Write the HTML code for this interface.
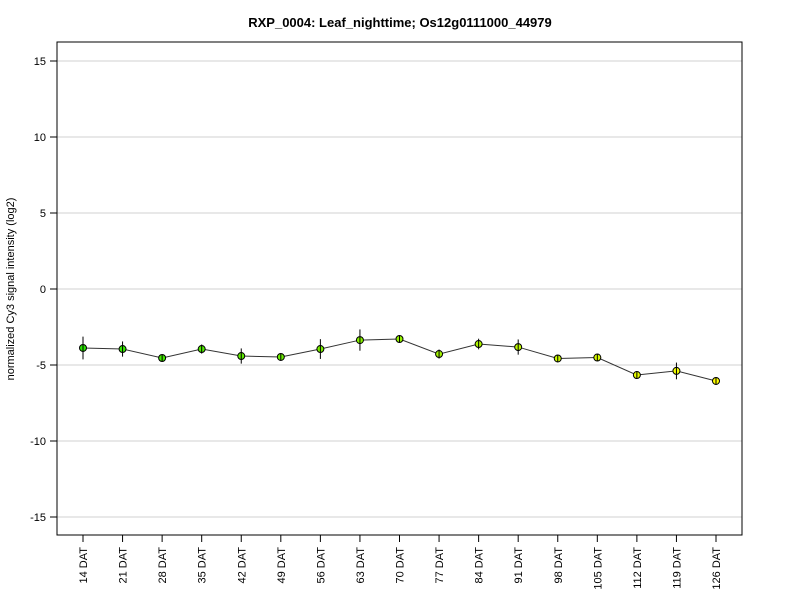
<!DOCTYPE html>
<html><head><meta charset="utf-8"><style>
body{margin:0;background:#fff;font-family:"Liberation Sans",Arial,sans-serif}
</style></head><body>
<svg id="chart" width="800" height="600" xmlns="http://www.w3.org/2000/svg" font-family="Liberation Sans, Arial, sans-serif">
<text x="400" y="27" text-anchor="middle" font-size="13" font-weight="bold">RXP_0004: Leaf_nighttime; Os12g0111000_44979</text>
<text transform="translate(14,289) rotate(-90)" text-anchor="middle" font-size="11">normalized Cy3 signal intensity (log2)</text>
<g id="grid"></g><g id="axes"></g><g id="series"></g>
<rect x="57" y="42" width="685" height="493" fill="none" stroke="#000" stroke-width="1"/>
</svg>
<script>
const categories=["14 DAT","21 DAT","28 DAT","35 DAT","42 DAT","49 DAT","56 DAT","63 DAT","70 DAT","77 DAT","84 DAT","91 DAT","98 DAT","105 DAT","112 DAT","119 DAT","126 DAT"];
const values=[-3.88,-3.95,-4.54,-3.95,-4.41,-4.47,-3.95,-3.36,-3.29,-4.28,-3.62,-3.82,-4.57,-4.51,-5.66,-5.39,-6.05];
const errors=[0.75,0.5,0.15,0.3,0.5,0.1,0.65,0.7,0.15,0.3,0.35,0.5,0.15,0.1,0.2,0.55,0.25];
const yTicks=[-15,-10,-5,0,5,10,15];
const NS="http://www.w3.org/2000/svg";
const x=i=>83+i*(716-83)/(categories.length-1);
const y=v=>289-v*15.2;
function mk(t,a,p){const e=document.createElementNS(NS,t);for(const k in a)e.setAttribute(k,a[k]);p.appendChild(e);return e;}
const grid=document.getElementById('grid'),axes=document.getElementById('axes'),ser=document.getElementById('series');
yTicks.forEach(v=>{
 const g=mk('line',{x1:57,x2:742,y1:y(v),y2:y(v),stroke:'#d0d0d0','stroke-width':1},grid);
 
 
 const t=mk('line',{x1:50,x2:57,y1:y(v),y2:y(v),stroke:'#000'},axes);
 
 
 const l=mk('text',{x:46,y:y(v)+4,'text-anchor':'end','font-size':11},axes);
 l.textContent=v;
 
 
});
categories.forEach((c,i)=>{
 const t=mk('line',{x1:x(i),x2:x(i),y1:535,y2:542,stroke:'#000'},axes);
 
 
 const l=mk('text',{transform:`translate(${x(i)+4},547) rotate(-90)`,'text-anchor':'end','font-size':11},axes);
 l.textContent=c;
 
 
});
const pl=mk('polyline',{points:values.map((v,i)=>x(i)+','+y(v)).join(' '),fill:'none',stroke:'#333','stroke-width':1},ser);


values.forEach((v,i)=>{
 const e=mk('line',{x1:x(i),x2:x(i),y1:y(v+errors[i]),y2:y(v-errors[i]),stroke:'#000','stroke-width':1},ser);
 
 
 const f=i/(categories.length-1);
 const r=Math.round(40+215*f),g=Math.round(230+25*f);
 const p=mk('circle',{cx:x(i),cy:y(v),r:3.5,fill:`rgb(${r},${g},0)`,stroke:'#000','stroke-width':1},ser);
 
 
 const e2=mk('line',{x1:x(i),x2:x(i),y1:y(v)-3.5,y2:y(v)+3.5,stroke:'#000','stroke-width':1},ser);
 
 
});
</script>
</body></html>
